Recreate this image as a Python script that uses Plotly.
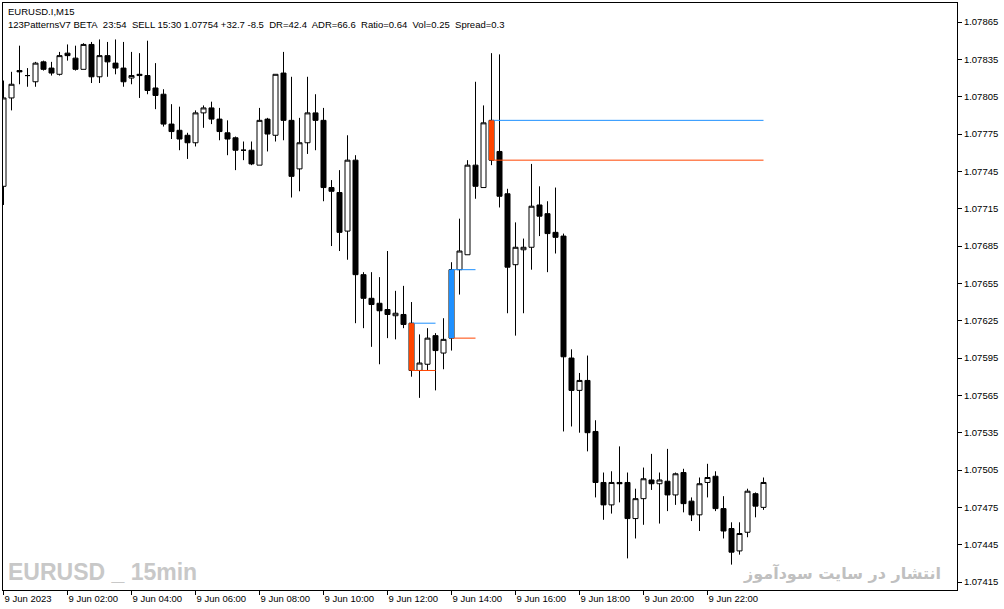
import plotly.graph_objects as go

# ---- data (EURUSD M15, 9 Jun 2023) ----
bar_index = list(range(96))
open_ = [1.07733, 1.07804, 1.07826, 1.07822, 1.07817, 1.07833, 1.07828, 1.07823, 1.07840, 1.07836,
         1.07827, 1.07847, 1.07821, 1.07838, 1.07832, 1.07828, 1.07820, 1.07822, 1.07822, 1.07812,
         1.07807, 1.07783, 1.07778, 1.07774, 1.07768, 1.07792, 1.07796, 1.07787, 1.07776, 1.07772,
         1.07762, 1.07762, 1.07750, 1.07787, 1.07774, 1.07824, 1.07786, 1.07747, 1.07768, 1.07792,
         1.07786, 1.07732, 1.07728, 1.07697, 1.07754, 1.07662, 1.07643, 1.07639, 1.07634, 1.07629,
         1.07630, 1.07623, 1.07585, 1.07590, 1.07613, 1.07599, 1.07611, 1.07666, 1.07678, 1.07750,
         1.07732, 1.07786, 1.07761, 1.07727, 1.07670, 1.07682, 1.07684, 1.07718, 1.07711, 1.07696,
         1.07693, 1.07595, 1.07569, 1.07577, 1.07536, 1.07495, 1.07477, 1.07495, 1.07495, 1.07466,
         1.07482, 1.07497, 1.07494, 1.07496, 1.07485, 1.07503, 1.07480, 1.07469, 1.07495, 1.07500,
         1.07474, 1.07458, 1.07440, 1.07455, 1.07486, 1.07475]
high = [1.07818, 1.07825, 1.07846, 1.07828, 1.07833, 1.07834, 1.07833, 1.07841, 1.07847, 1.07846,
        1.07848, 1.07849, 1.07851, 1.07849, 1.07851, 1.07849, 1.07841, 1.07840, 1.07850, 1.07832,
        1.07811, 1.07799, 1.07797, 1.07776, 1.07794, 1.07798, 1.07801, 1.07796, 1.07786, 1.07773,
        1.07769, 1.07769, 1.07796, 1.07788, 1.07823, 1.07841, 1.07821, 1.07788, 1.07821, 1.07807,
        1.07796, 1.07738, 1.07746, 1.07774, 1.07758, 1.07664, 1.07664, 1.07660, 1.07681, 1.07649,
        1.07653, 1.07640, 1.07614, 1.07619, 1.07615, 1.07627, 1.07672, 1.07707, 1.07754, 1.07817,
        1.07798, 1.07840, 1.07839, 1.07731, 1.07704, 1.07691, 1.07751, 1.07733, 1.07721, 1.07732,
        1.07695, 1.07602, 1.07583, 1.07597, 1.07545, 1.07503, 1.07504, 1.07524, 1.07503, 1.07490,
        1.07507, 1.07518, 1.07503, 1.07522, 1.07503, 1.07506, 1.07483, 1.07499, 1.07510, 1.07504,
        1.07484, 1.07463, 1.07463, 1.07490, 1.07487, 1.07499]
low = [1.07718, 1.07794, 1.07815, 1.07813, 1.07813, 1.07826, 1.07822, 1.07822, 1.07834, 1.07826,
       1.07827, 1.07816, 1.07816, 1.07821, 1.07823, 1.07813, 1.07815, 1.07804, 1.07807, 1.07795,
       1.07781, 1.07771, 1.07762, 1.07755, 1.07765, 1.07780, 1.07783, 1.07770, 1.07758, 1.07746,
       1.07754, 1.07750, 1.07750, 1.07761, 1.07769, 1.07770, 1.07724, 1.07729, 1.07759, 1.07762,
       1.07721, 1.07685, 1.07681, 1.07674, 1.07623, 1.07619, 1.07604, 1.07590, 1.07611, 1.07610,
       1.07619, 1.07580, 1.07563, 1.07585, 1.07569, 1.07586, 1.07601, 1.07646, 1.07678, 1.07723,
       1.07732, 1.07750, 1.07716, 1.07631, 1.07613, 1.07631, 1.07666, 1.07693, 1.07664, 1.07679,
       1.07536, 1.07540, 1.07535, 1.07520, 1.07483, 1.07465, 1.07470, 1.07479, 1.07434, 1.07450,
       1.07461, 1.07489, 1.07462, 1.07472, 1.07477, 1.07471, 1.07464, 1.07456, 1.07483, 1.07472,
       1.07450, 1.07429, 1.07437, 1.07451, 1.07467, 1.07473]
close = [1.07804, 1.07815, 1.07825, 1.07822, 1.07832, 1.07827, 1.07824, 1.07838, 1.07838, 1.07827,
         1.07847, 1.07821, 1.07838, 1.07833, 1.07828, 1.07817, 1.07822, 1.07823, 1.07810, 1.07806,
         1.07783, 1.07777, 1.07771, 1.07768, 1.07792, 1.07796, 1.07787, 1.07777, 1.07771, 1.07762,
         1.07762, 1.07751, 1.07786, 1.07775, 1.07823, 1.07786, 1.07741, 1.07768, 1.07792, 1.07786,
         1.07732, 1.07729, 1.07696, 1.07754, 1.07662, 1.07643, 1.07638, 1.07633, 1.07630, 1.07631,
         1.07622, 1.07585, 1.07591, 1.07611, 1.07601, 1.07610, 1.07666, 1.07681, 1.07750, 1.07733,
         1.07784, 1.07754, 1.07725, 1.07668, 1.07684, 1.07684, 1.07717, 1.07709, 1.07695, 1.07692,
         1.07596, 1.07569, 1.07577, 1.07535, 1.07495, 1.07477, 1.07495, 1.07494, 1.07466, 1.07482,
         1.07498, 1.07494, 1.07497, 1.07485, 1.07502, 1.07478, 1.07469, 1.07494, 1.07499, 1.07474,
         1.07456, 1.07439, 1.07454, 1.07488, 1.07476, 1.07495]

time_tick_bars = [0, 8, 16, 24, 32, 40, 48, 56, 64, 72, 80, 88]
time_tick_labels = ["9 Jun 2023", "9 Jun 02:00", "9 Jun 04:00", "9 Jun 06:00", "9 Jun 08:00",
                    "9 Jun 10:00", "9 Jun 12:00", "9 Jun 14:00", "9 Jun 16:00", "9 Jun 18:00",
                    "9 Jun 20:00", "9 Jun 22:00"]
price_ticks = [1.07415, 1.07445, 1.07475, 1.07505, 1.07535, 1.07565, 1.07595, 1.07625,
               1.07655, 1.07685, 1.07715, 1.07745, 1.07775, 1.07805, 1.07835, 1.07865]

# 123 pattern points: bar, bar where lines end, top price, bottom price, bar colour
pattern_bar = [51, 56, 61]
pattern_end = [54, 59, 95]
pattern_top = [1.07623, 1.07666, 1.07786]
pattern_bottom = [1.07585, 1.07611, 1.07754]
pattern_color = ["#FF4500", "#1E90FF", "#FF4500"]

BLUE = "#1E90FF"
ORANGE = "#FF4500"
FONT = "Liberation Sans"

fig = go.Figure()

fig.add_trace(go.Candlestick(
    x=bar_index, open=open_, high=high, low=low, close=close,
    increasing=dict(line=dict(color="black", width=1), fillcolor="white"),
    decreasing=dict(line=dict(color="black", width=1), fillcolor="black"),
    whiskerwidth=0, showlegend=False, hoverinfo="skip",
))

# pattern level lines
for b, e, t, bt in zip(pattern_bar, pattern_end, pattern_top, pattern_bottom):
    fig.add_trace(go.Scatter(x=[b, e], y=[t, t], mode="lines",
                             line=dict(color=BLUE, width=1), showlegend=False, hoverinfo="skip"))
    fig.add_trace(go.Scatter(x=[b, e], y=[bt, bt], mode="lines",
                             line=dict(color=ORANGE, width=1), showlegend=False, hoverinfo="skip"))

# coloured pattern bars (drawn on top of the candles)
for b, t, bt, c in zip(pattern_bar, pattern_top, pattern_bottom, pattern_color):
    fig.add_trace(go.Scatter(x=[b, b], y=[bt, t], mode="lines",
                             line=dict(color=c, width=5), showlegend=False, hoverinfo="skip"))

fig.update_layout(
    width=1004, height=609,
    margin=dict(l=3, r=47, t=3, b=19),
    paper_bgcolor="white", plot_bgcolor="white",
    boxgap=0.375, boxgroupgap=0,
    font=dict(family=FONT, size=9.5, color="black"),
    showlegend=False,
    xaxis=dict(
        range=[-0.0625, 119.1875],
        rangeslider=dict(visible=False),
        tickmode="array", tickvals=time_tick_bars, ticktext=time_tick_labels,
        ticks="outside", ticklen=4, tickcolor="black", tickwidth=1,
        ticklabelposition="outside right",
        showgrid=False, zeroline=False,
        showline=True, linecolor="black", linewidth=1, mirror=True,
        tickfont=dict(family=FONT, size=9.5, color="black"),
    ),
    yaxis=dict(
        side="right",
        range=[1.074086, 1.078803],
        tickmode="array", tickvals=price_ticks,
        tickformat=".5f",
        ticks="outside", ticklen=4, tickcolor="black", tickwidth=1,
        showgrid=False, zeroline=False,
        showline=True, linecolor="black", linewidth=1, mirror=True,
        tickfont=dict(family=FONT, size=9.5, color="black"),
    ),
)

fig.add_annotation(xref="paper", yref="paper", x=0, y=1, xanchor="left", yanchor="top",
                   xshift=3, yshift=-1, showarrow=False, text="EURUSD.I,M15",
                   font=dict(family=FONT, size=9.5, color="black"))
fig.add_annotation(xref="paper", yref="paper", x=0, y=1, xanchor="left", yanchor="top",
                   xshift=3, yshift=-14, showarrow=False,
                   text="123PatternsV7 BETA&nbsp; 23:54&nbsp; SELL 15:30 1.07754 +32.7 -8.5&nbsp; DR=42.4&nbsp; ADR=66.6&nbsp; Ratio=0.64&nbsp; Vol=0.25&nbsp; Spread=0.3",
                   font=dict(family=FONT, size=9.5, color="black"))
fig.add_annotation(xref="paper", yref="paper", x=0, y=0, xanchor="left", yanchor="bottom",
                   xshift=3, yshift=3, showarrow=False, text="<b>EURUSD _ 15min</b>",
                   font=dict(family=FONT, size=23, color="#C8C8C8"))
fig.add_annotation(xref="paper", yref="paper", x=0.9853, y=0, xanchor="right", yanchor="bottom",
                   yshift=5, showarrow=False, text="<b>انتشار در سایت سودآموز</b>",
                   font=dict(family="DejaVu Sans", size=16, color="#C0C0C0"))

fig.write_html("out.html", post_script="document.body.style.margin='0px';",
               config={"displayModeBar": False})
